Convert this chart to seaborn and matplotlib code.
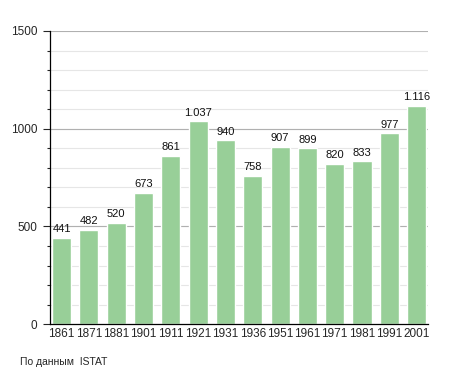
import matplotlib
matplotlib.use('Agg')
import matplotlib.pyplot as plt
import seaborn as sns
import pandas as pd
import numpy as np

years = ['1861', '1871', '1881', '1901', '1911', '1921', '1931', '1936',
         '1951', '1961', '1971', '1981', '1991', '2001']
population = [441, 482, 520, 673, 861, 1037, 940, 758, 907, 899, 820, 833, 977, 1116]
labels = ['441', '482', '520', '673', '861', '1.037', '940', '758',
          '907', '899', '820', '833', '977', '1.116']

df = pd.DataFrame({'year': years, 'pop': population})

sns.set_style('white')
plt.rcParams['font.family'] = ['Liberation Sans', 'DejaVu Sans']

fig = plt.figure(figsize=(4.55, 3.73), dpi=100)
ax = fig.add_axes([0.11, 0.131, 0.831, 0.786])

# grid lines: light every 100, darker every 500
for v in range(100, 1500, 100):
    ax.axhline(v, color='#e6e6e6', lw=0.8, zorder=0)
for v in (500, 1000, 1500):
    ax.axhline(v, color='#b0b0b0', lw=0.8, zorder=0)

sns.barplot(data=df, x='year', y='pop', color='#98cf98', saturation=1,
            width=0.70, ax=ax, zorder=2)

for i, (v, t) in enumerate(zip(population, labels)):
    ax.text(i, v + 18, t, ha='center', va='bottom', fontsize=8, color='#111111')

ax.set_ylim(0, 1500)
ax.set_xlim(-0.42, len(years) - 0.58)
ax.set_yticks([0, 500, 1000, 1500])
ax.set_yticks(range(0, 1501, 100), minor=True)
ax.tick_params(axis='y', which='major', length=5, width=0.8, labelsize=8.5, pad=4, left=True)
ax.tick_params(axis='y', which='minor', length=2.5, width=0.8, left=True)
ax.tick_params(axis='x', length=0, labelsize=8.5, pad=3)
ax.set_xlabel('')
ax.set_ylabel('')

for s in ('top', 'right'):
    ax.spines[s].set_visible(False)
ax.spines['left'].set_color('black')
ax.spines['bottom'].set_color('black')
ax.spines['left'].set_linewidth(0.9)
ax.spines['bottom'].set_linewidth(0.9)

fig.text(20 / 455, 1 - 362 / 373, 'По данным  ISTAT', fontsize=7.5, va='center', ha='left')

fig.savefig('out.png', dpi=100)
